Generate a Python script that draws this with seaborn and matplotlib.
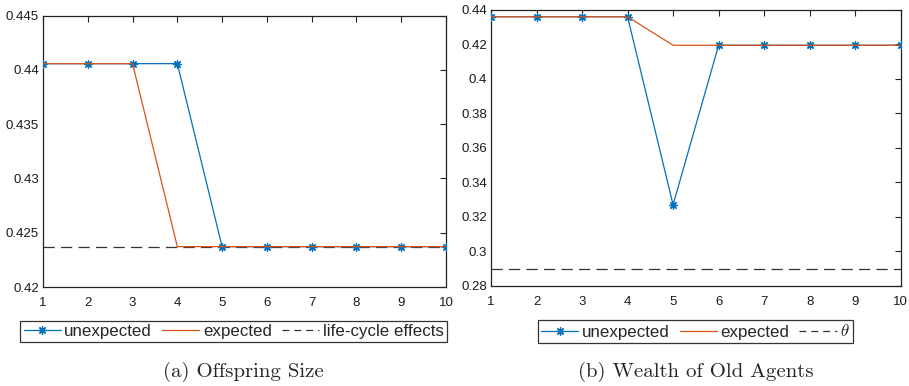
import matplotlib
matplotlib.use("Agg")
import matplotlib.pyplot as plt
import seaborn as sns
import pandas as pd

# ---- data ----
periods = [1, 2, 3, 4, 5, 6, 7, 8, 9, 10]
offspring_unexpected = [0.44058, 0.44058, 0.44058, 0.44058, 0.42372, 0.42372, 0.42372, 0.42372, 0.42372, 0.42372]
offspring_expected = [0.44058, 0.44058, 0.44058, 0.42372, 0.42372, 0.42372, 0.42372, 0.42372, 0.42372, 0.42372]
offspring_lifecycle = 0.42372
wealth_unexpected = [0.4358, 0.4358, 0.4358, 0.4358, 0.3270, 0.4193, 0.4193, 0.4193, 0.4193, 0.4193]
wealth_expected = [0.4358, 0.4358, 0.4358, 0.4358, 0.4193, 0.4193, 0.4193, 0.4193, 0.4193, 0.4193]
wealth_theta = 0.29
left_yticks = [0.42, 0.425, 0.43, 0.435, 0.44, 0.445]
left_yticklabels = ["0.42", "0.425", "0.43", "0.435", "0.44", "0.445"]
right_yticks = [0.28, 0.30, 0.32, 0.34, 0.36, 0.38, 0.40, 0.42, 0.44]
right_yticklabels = ["0.28", "0.3", "0.32", "0.34", "0.36", "0.38", "0.4", "0.42", "0.44"]
captions = ["(a) Offspring Size", "(b) Wealth of Old Agents"]
left_labels = ["unexpected", "expected", "life-cycle effects"]
right_labels = ["unexpected", "expected", r"$\theta$"]

sns.set_theme(style="white")
plt.rcParams["font.family"] = ["Liberation Sans", "DejaVu Sans"]
plt.rcParams["mathtext.fontset"] = "cm"

BLUE = "#0072BD"
ORANGE = "#D95319"
ASTERISK = (8, 2, 0)

fig = plt.figure(figsize=(9.09, 3.86), dpi=100)
ax1 = fig.add_axes([43 / 909, 1 - 287 / 386, 403 / 909, 271.3 / 386])
ax2 = fig.add_axes([491 / 909, 1 - 286 / 386, 409.7 / 909, 276.5 / 386])


def draw(ax, unexp, exp, hline, ylim, yticks, yticklabels, labels):
    df = pd.DataFrame({"x": periods, "unexp": unexp, "exp": exp})
    sns.lineplot(data=df, x="x", y="unexp", ax=ax, color=BLUE, lw=0.9,
                 marker=ASTERISK, markersize=6, markeredgecolor=BLUE,
                 markeredgewidth=0.9, label=labels[0], zorder=3)
    sns.lineplot(data=df, x="x", y="exp", ax=ax, color=ORANGE, lw=0.9,
                 label=labels[1], zorder=4)
    ax.axhline(hline, color="#333333", lw=0.9, ls=(0, (9, 5)),
               label=labels[2], zorder=2)
    ax.set_xlim(1, 10)
    ax.set_ylim(*ylim)
    ax.set_xticks(periods)
    ax.set_xticklabels([str(p) for p in periods])
    ax.set_yticks(yticks)
    ax.set_yticklabels(yticklabels)
    ax.set_xlabel("")
    ax.set_ylabel("")
    ax.tick_params(direction="in", length=4, width=0.8, top=True, right=True,
                   labelsize=9.5, colors="#222222", labelcolor="#1a1a1a")
    ax.tick_params(axis="x", pad=7)
    ax.tick_params(axis="y", pad=3)
    for s in ax.spines.values():
        s.set_visible(True)
        s.set_color("#222222")
        s.set_linewidth(0.9)
    if ax.get_legend() is not None:
        ax.get_legend().remove()


draw(ax1, offspring_unexpected, offspring_expected, offspring_lifecycle,
     (0.42, 0.445), left_yticks, left_yticklabels, left_labels)
draw(ax2, wealth_unexpected, wealth_expected, wealth_theta,
     (0.28, 0.44), right_yticks, right_yticklabels, right_labels)


def legend(ax, cx, cy):
    h, l = ax.get_legend_handles_labels()
    leg = fig.legend(h, l, loc="center", bbox_to_anchor=(cx / 909, 1 - cy / 386),
                     ncol=3, frameon=True, fancybox=False, fontsize=12.2,
                     handlelength=2.2, handletextpad=0.2, columnspacing=0.6,
                     borderpad=0.2, borderaxespad=0)
    leg.get_frame().set_edgecolor("black")
    leg.get_frame().set_linewidth(0.9)
    for line in leg.get_lines():
        if line.get_linestyle() not in ("-", "solid"):
            line.set_dashes((5.5, 4))
    return leg


legend(ax1, 233.5, 331.5)
legend(ax2, 695.5, 331.5)

fig.text(243 / 909, 1 - 372 / 386, captions[0], ha="center", va="center",
         fontsize=15, family="cmr10")
fig.text(696 / 909, 1 - 372 / 386, captions[1], ha="center", va="center",
         fontsize=15, family="cmr10")

fig.savefig("out.png", dpi=100)
